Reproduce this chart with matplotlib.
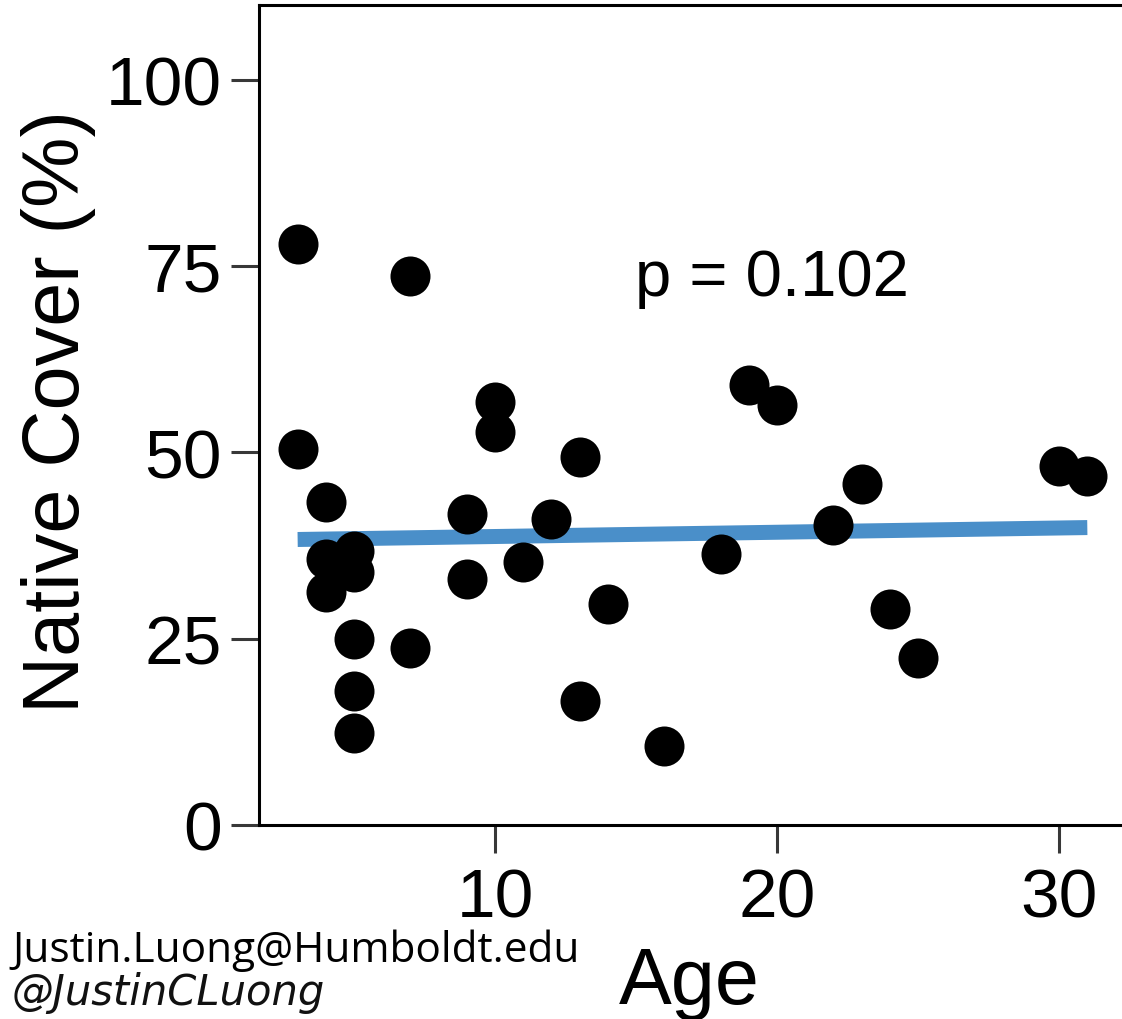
import matplotlib
matplotlib.use("Agg")
import matplotlib.pyplot as plt

# ---- data ----
age = [3, 3, 4, 4, 4, 5, 5, 5, 5, 5, 7, 7, 9, 9, 10, 10, 11, 12, 13, 13,
       14, 16, 18, 19, 20, 22, 23, 24, 25, 30, 31]
cover = [77.9, 50.4, 43.3, 35.7, 31.2, 36.8, 34.0, 24.9, 18.0, 12.3, 73.7, 23.7,
         41.7, 33.0, 56.7, 52.7, 35.3, 41.0, 49.3, 16.6, 29.6, 10.6, 36.3,
         59.0, 56.3, 40.3, 45.7, 29.0, 22.4, 48.1, 46.8]
fit_x = [3, 31]
fit_y = [38.3, 39.9]
xticks = [10, 20, 30]
yticks = [0, 25, 50, 75, 100]
p_label = "p = 0.102"
xlabel = "Age"
ylabel = "Native Cover (%)"
email = "Justin.Luong@Humboldt.edu"
handle = "@JustinCLuong"

W, H = 1122, 1020
fig = plt.figure(figsize=(W / 100, H / 100), dpi=100)
plt.rcParams['font.family'] = ['Liberation Sans', 'DejaVu Sans']

left, right, bottom, top = 259, 1122, 826, 6
ax = fig.add_axes([left / W, 1 - bottom / H, (right - left) / W, (bottom - top) / H])

ax.plot(fit_x, fit_y, color="#4A8FC9", lw=10.8, solid_capstyle="butt", zorder=2)
ax.scatter(age, cover, s=830, color="black", linewidths=0, zorder=3)

ax.set_xlim(1.63, 32.23)
ax.set_ylim(0, 110)
ax.set_xticks(xticks)
ax.set_yticks(yticks)
ax.set_xticklabels([str(t) for t in xticks])
ax.set_yticklabels([str(t) for t in yticks])

for s in ["left", "top", "bottom"]:
    ax.spines[s].set_linewidth(2.2)
    ax.spines[s].set_color("black")
ax.spines["right"].set_visible(False)

ax.tick_params(axis="both", direction="out", length=20, width=2.2, color="#383838",
               labelsize=50, labelcolor="black")
ax.tick_params(axis="x", pad=10)
ax.tick_params(axis="y", pad=7)

ax.text(19.82, 71.05, p_label, fontsize=47, ha="center", va="baseline", color="black")

fig.text(689 / W, 1 - 1004 / H, xlabel, fontsize=57, ha="center", va="baseline")
fig.text(79 / W, 1 - 412 / H, ylabel, fontsize=57, rotation=90,
         rotation_mode="anchor", ha="center", va="baseline")

fig.text(12 / W, 1 - 962 / H, email, fontsize=30.5, family="Open Sans",
         ha="left", va="baseline", color="black")
fig.text(12 / W, 1 - 1005 / H, handle, fontsize=30, family="DejaVu Sans",
         style="italic", ha="left", va="baseline", color="#111111")

fig.savefig("out.png", dpi=100)
